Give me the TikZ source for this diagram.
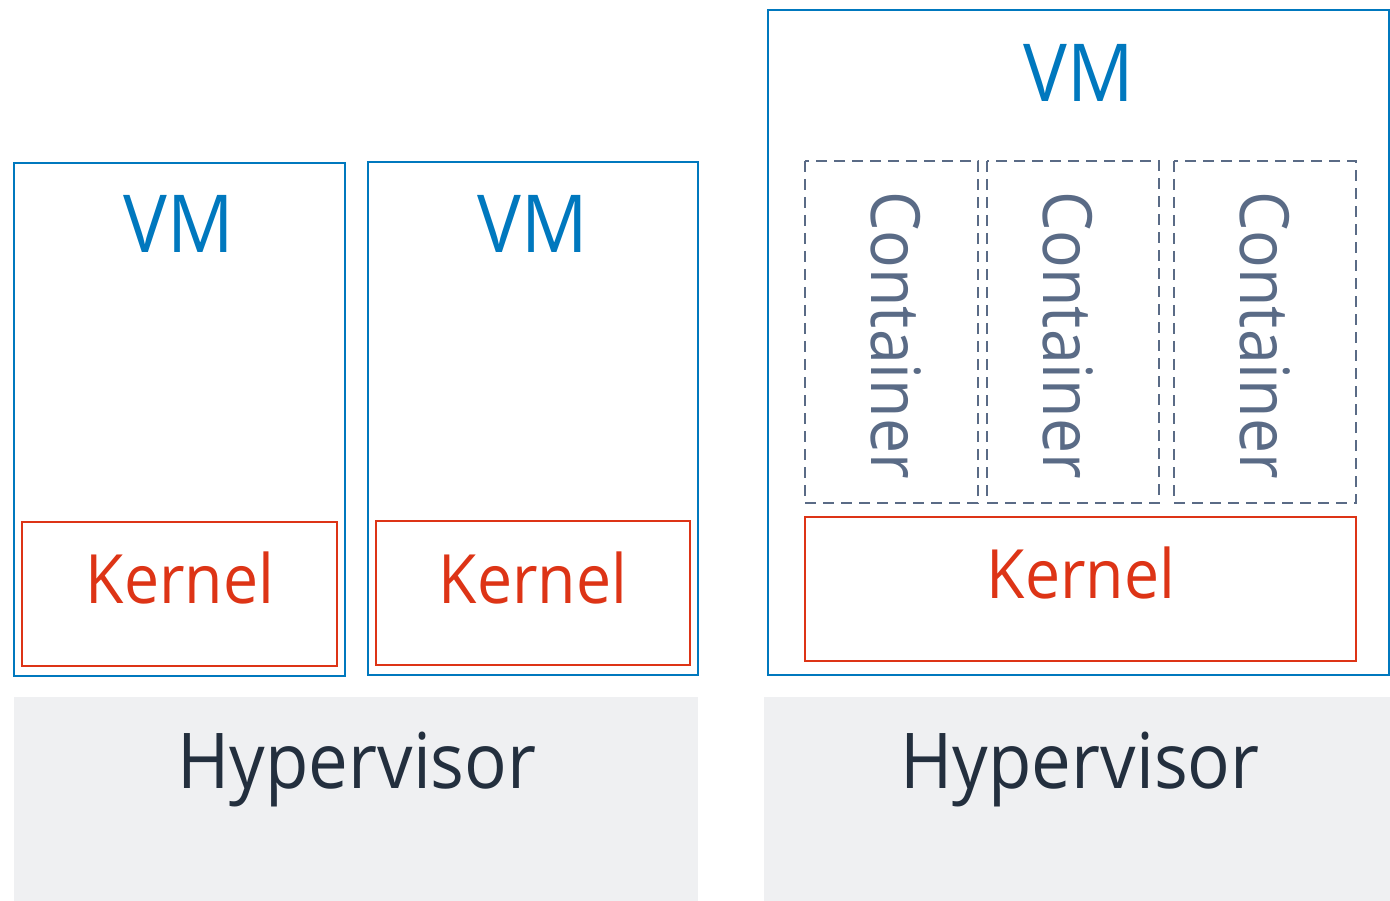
\documentclass[tikz,border=0pt]{standalone}
\usepackage{fontspec}
\setmainfont[FakeStretch=0.92]{Open Sans}
\definecolor{vmblue}{HTML}{0078BE}
\definecolor{kred}{HTML}{DD3416}
\definecolor{hvgray}{HTML}{EFF0F2}
\definecolor{hvtext}{HTML}{232F3E}
\definecolor{ctgray}{HTML}{5A6B86}
\tikzset{
  vmbox/.style={draw=vmblue, line width=2.5pt},
  kbox/.style={draw=kred, line width=2.8pt},
  hvbox/.style={fill=hvgray},
  ctbox/.style={draw=ctgray, line width=2.6pt, dash pattern=on 11pt off 7pt},
  vmtext/.style={text=vmblue, font=\fontsize{80}{82}\selectfont},
  ktext/.style={text=kred, font=\fontsize{68}{70}\selectfont},
  hvtext/.style={text=hvtext, font=\fontsize{77}{79}\selectfont},
  cttext/.style={text=ctgray, font=\fontsize{68}{70}\selectfont, rotate=-90},
}
\begin{document}
\begin{tikzpicture}[x=1pt,y=-1pt]
\useasboundingbox (0,0) rectangle (1390,901);
% hypervisor layers
\fill[hvbox] (14,697) rectangle (698,901);
\fill[hvbox] (764,697) rectangle (1390,901);
\node[hvtext] (hv1) at (357,769) {Hypervisor};
\node[hvtext] (hv2) at (1080,769) {Hypervisor};
% left: two VMs, each with its own kernel
\draw[vmbox] (14,163) rectangle (345,676);
\draw[vmbox] (368,162) rectangle (698,675);
\node[vmtext] (vm1) at (179,224) {VM};
\node[vmtext] (vm2) at (533,224) {VM};
\draw[kbox] (22,522) rectangle (337,666);
\draw[kbox] (376,521) rectangle (690,665);
\node[ktext] (k1) at (180,578) {Kernel};
\node[ktext] (k2) at (533,578) {Kernel};
% right: one VM, one kernel, three containers
\draw[vmbox] (768,10) rectangle (1389,675);
\node[vmtext] (vm3) at (1079,73) {VM};
\draw[ctbox] (805,161) rectangle (978,503);
\draw[ctbox] (987,161) rectangle (1159,503);
\draw[ctbox] (1174,161) rectangle (1356,503);
\node[cttext] (c1) at (896,335) {Container};
\node[cttext] (c2) at (1068,335) {Container};
\node[cttext] (c3) at (1265,335) {Container};
\draw[kbox] (805,517) rectangle (1356,661);
\node[ktext] (k3) at (1081,573) {Kernel};
\end{tikzpicture}
\end{document}
